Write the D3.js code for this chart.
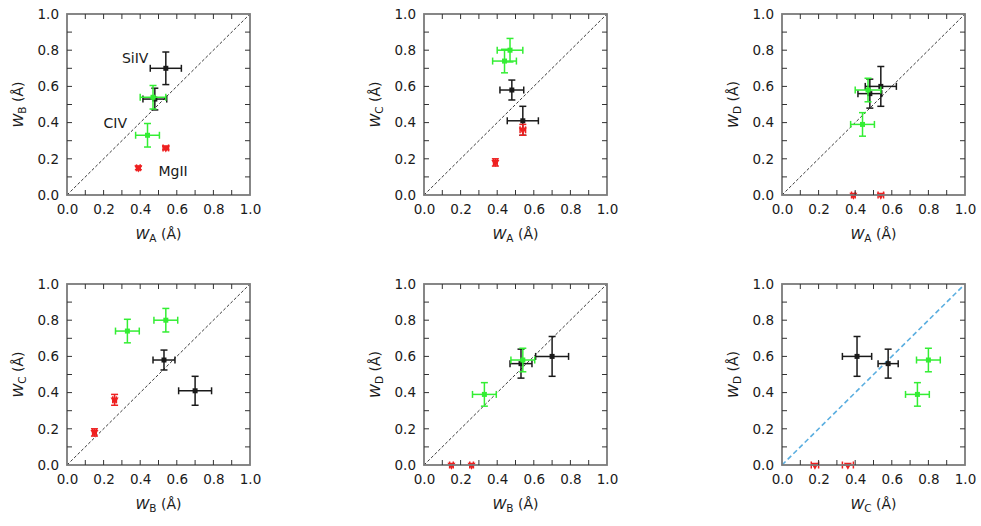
<!DOCTYPE html>
<html><head><meta charset="utf-8">
<script src="https://cdn.jsdelivr.net/npm/d3@7"></script>
<style>
body{margin:0;background:#fff;}
svg{display:block;font-family:"DejaVu Sans",Verdana,sans-serif;}
</style></head>
<body><svg id="chart" width="981" height="526"></svg>
<script>
// Sightlines (rows of each array follow this order)
const sightlines = ["A","B","C","D"];
// Two velocity components per ion
const siivW   = [[0.54,0.48],[0.70,0.53],[0.41,0.58],[0.60,0.56]];
const siivErr = [[0.085,0.065],[0.09,0.06],[0.08,0.055],[0.11,0.08]];
const civW    = [[0.47,0.44],[0.54,0.33],[0.80,0.74],[0.58,0.39]];
const civErr  = [[0.07,0.065],[0.065,0.065],[0.065,0.065],[0.065,0.065]];
const mgiiW   = [[0.54,0.39],[0.26,0.15],[0.36,0.18],[0.0,0.0]];
const mgiiErr = [[0.015,0.01],[0.01,0.01],[0.03,0.02],[0,0]];
const panelPairs = [["A","B"],["A","C"],["A","D"],["B","C"],["B","D"],["C","D"]];
const tickValues = [0,0.2,0.4,0.6,0.8,1.0];
const minorTicks = [0,0.1,0.2,0.3,0.4,0.5,0.6,0.7,0.8,0.9,1.0];
const ionLabels = [{text:"SiIV",x:0.30,y:0.73},{text:"CIV",x:0.20,y:0.37},{text:"MgII",x:0.50,y:0.105}];

const ions = [
  {name:"SiIV", W:siivW, E:siivErr, color:"#1a1a1a", marker:"square"},
  {name:"CIV",  W:civW,  E:civErr,  color:"#33ee33", marker:"square"},
  {name:"MgII", W:mgiiW, E:mgiiErr, color:"#ee2020", marker:"tri"}
];

const svg = d3.select("#chart");
const lefts = [67,424,782], tops = [14,284];
const PW = 183, PH = 181;

panelPairs.forEach((pair,pi)=>{
  const left = lefts[pi%3], top = tops[Math.floor(pi/3)];
  const g = svg.append("g").attr("transform",`translate(${left},${top})`);
  const x = d3.scaleLinear().domain([0,1]).range([0,PW]);
  const y = d3.scaleLinear().domain([0,1]).range([PH,0]);
  const xi = sightlines.indexOf(pair[0]), yi = sightlines.indexOf(pair[1]);

  const cid = "clip"+pi;
  g.append("clipPath").attr("id",cid).append("rect").attr("x",-6).attr("y",-6).attr("width",PW+12).attr("height",PH+12);

  // diagonal
  const last = pi===5;
  g.append("line").attr("x1",x(0)).attr("y1",y(0)).attr("x2",x(1)).attr("y2",y(1))
    .attr("stroke", last ? "#5aaee0" : "#222")
    .attr("stroke-width", last ? 1.6 : 0.9)
    .attr("stroke-dasharray", last ? "5,3" : "3,2");

  // data
  const body = g.append("g").attr("clip-path",`url(#${cid})`);
  ions.forEach(ion=>{
    for(let k=0;k<2;k++){
      const vx = ion.W[xi][k], vy = ion.W[yi][k];
      const ex = ion.E[xi][k], ey = ion.E[yi][k];
      const px = x(vx), py = y(vy);
      const cap = 3.5;
      const s = body.append("g").attr("stroke",ion.color).attr("stroke-width",1.5).attr("fill","none");
      if(ex>0){
        s.append("line").attr("x1",x(vx-ex)).attr("x2",x(vx+ex)).attr("y1",py).attr("y2",py);
        s.append("line").attr("x1",x(vx-ex)).attr("x2",x(vx-ex)).attr("y1",py-cap).attr("y2",py+cap);
        s.append("line").attr("x1",x(vx+ex)).attr("x2",x(vx+ex)).attr("y1",py-cap).attr("y2",py+cap);
      }
      if(ey>0){
        s.append("line").attr("y1",y(vy-ey)).attr("y2",y(vy+ey)).attr("x1",px).attr("x2",px);
        s.append("line").attr("y1",y(vy-ey)).attr("y2",y(vy-ey)).attr("x1",px-cap).attr("x2",px+cap);
        s.append("line").attr("y1",y(vy+ey)).attr("y2",y(vy+ey)).attr("x1",px-cap).attr("x2",px+cap);
      }
      if(ion.marker==="square"){
        body.append("rect").attr("x",px-2.5).attr("y",py-2.5).attr("width",5).attr("height",5)
          .attr("fill",ion.color);
      } else {
        body.append("path").attr("d",d3.symbol(d3.symbolTriangle,28)())
          .attr("transform",`translate(${px},${py}) rotate(180)`).attr("fill",ion.color);
      }
    }
  });

  // frame
  g.append("rect").attr("width",PW).attr("height",PH).attr("fill","none")
    .attr("stroke","#7a7a7a").attr("stroke-width",1.8);

  // inside ticks on all four sides
  const tk = g.append("g").attr("stroke","#333").attr("stroke-width",1);
  minorTicks.slice(1,-1).forEach(t=>{
    tk.append("line").attr("x1",x(t)).attr("x2",x(t)).attr("y1",PH).attr("y2",PH-5);
    tk.append("line").attr("x1",x(t)).attr("x2",x(t)).attr("y1",0).attr("y2",5);
    tk.append("line").attr("y1",y(t)).attr("y2",y(t)).attr("x1",0).attr("x2",5);
    tk.append("line").attr("y1",y(t)).attr("y2",y(t)).attr("x1",PW).attr("x2",PW-5);
  });

  // tick labels via d3 axes
  const xa = g.append("g").attr("transform",`translate(0,${PH})`)
    .call(d3.axisBottom(x).tickValues(tickValues).tickFormat(d3.format(".1f")).tickSize(0).tickPadding(9));
  const ya = g.append("g")
    .call(d3.axisLeft(y).tickValues(tickValues).tickFormat(d3.format(".1f")).tickSize(0).tickPadding(8));
  [xa,ya].forEach(a=>{
    a.select(".domain").remove();
    a.selectAll("text").attr("font-size",13.5).attr("fill","#1a1a1a").attr("font-family","DejaVu Sans, sans-serif");
  });

  // axis labels
  const addLabel = (sel, sub)=>{
    sel.append("tspan").attr("font-style","italic").text("W");
    sel.append("tspan").attr("font-size",10.5).attr("dy",3).text(sub);
    sel.append("tspan").attr("dy",-3).text(" (Å)");
  };
  const xl = g.append("text").attr("x",PW/2).attr("y",PH+44).attr("text-anchor","middle")
    .attr("font-size",14).attr("fill","#1a1a1a");
  addLabel(xl, pair[0]);
  const yl = g.append("text").attr("transform",`translate(-44,${PH/2}) rotate(-90)`).attr("text-anchor","middle")
    .attr("font-size",14).attr("fill","#1a1a1a");
  addLabel(yl, pair[1]);

  if(pi===0){
    ionLabels.forEach(l=>{
      g.append("text").attr("x",x(l.x)).attr("y",y(l.y)).attr("font-size",14).attr("fill","#1a1a1a").text(l.text);
    });
  }
});
</script></body></html>
